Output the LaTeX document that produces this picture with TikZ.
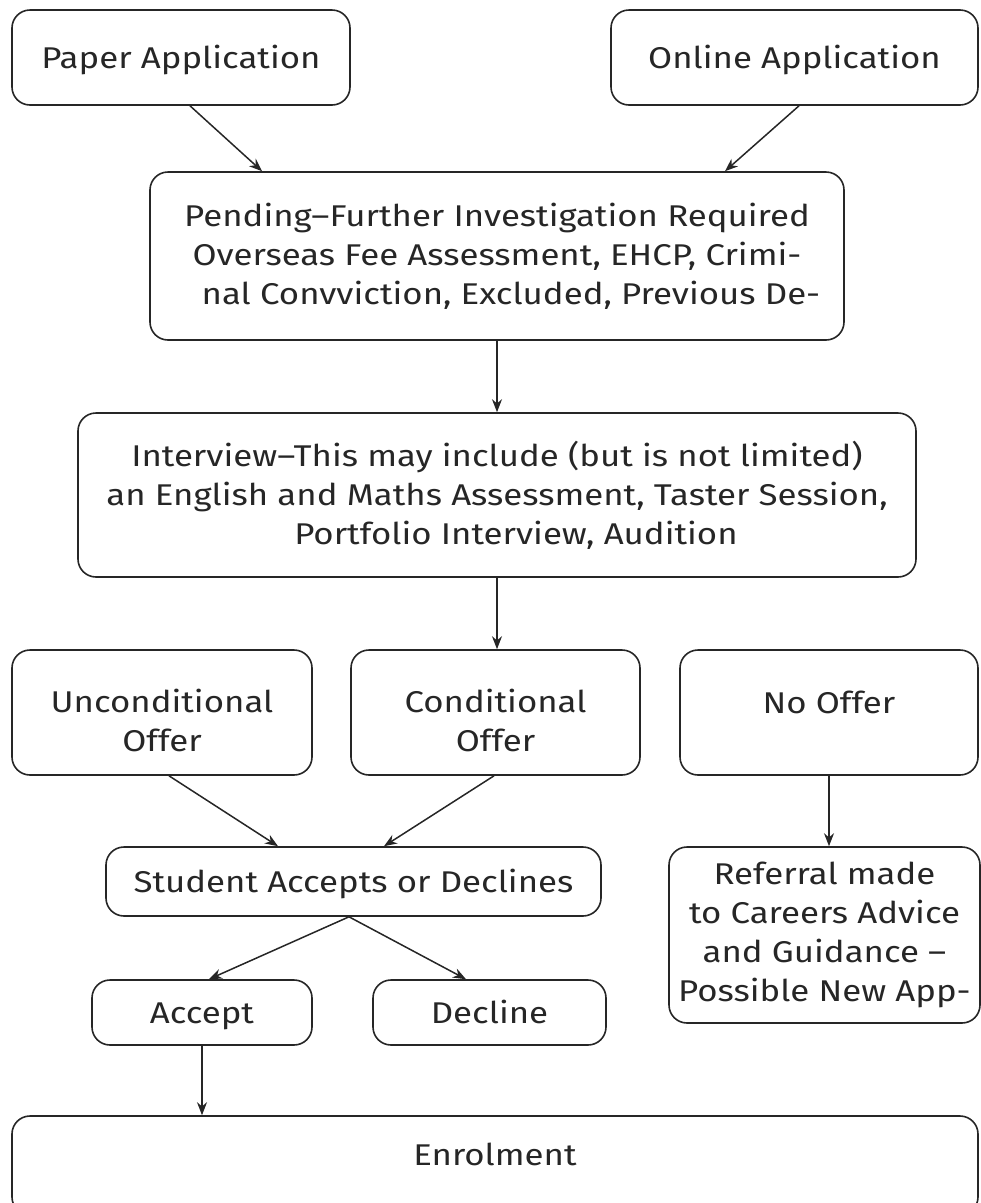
\documentclass[tikz,border=0pt]{standalone}
\usepackage{fontspec}
\setmainfont{Fira Sans}[FakeStretch=1.16]
\usetikzlibrary{arrows.meta}
\newcommand{\tallfirst}{\rule{0pt}{40pt}}
\begin{document}
\begin{tikzpicture}[x=1pt,y=-1pt,
  box/.style={draw=black!85, line width=1.6pt, rounded corners=18pt, align=center,
    inner sep=0pt, font=\fontsize{30}{39}\selectfont, text=black!85},
  sl/.style={text height=21pt, text depth=0pt},
  arr/.style={draw=black!85, line width=1.5pt, -{Stealth[length=13pt,width=10pt]}}]
\useasboundingbox (0,0) rectangle (981,1203);
\clip (0,0) rectangle (981,1203);
\node[box, sl, minimum width=338pt, minimum height=95pt] (paper) at (181,57.5) {Paper Application};
\node[box, sl, minimum width=367pt, minimum height=95pt] (online) at (794.5,57.5) {Online Application};
\node[box, minimum width=694pt, minimum height=168pt] (pending) at (497,256)
  {Pending–Further Investigation Required\\Overseas Fee Assessment, EHCP, Crimi-\\\hspace*{28pt}nal Convviction, Excluded, Previous De-};
\node[box, minimum width=838pt, minimum height=164pt] (interview) at (497,495)
  {Interview–This may include (but is not limited)\\an English and Maths Assessment, Taster Session,\\\hspace*{38pt}Portfolio Interview, Audition};
\node[box, minimum width=300pt, minimum height=125pt] (uncond) at (162,712.5) {\tallfirst Unconditional\\Offer};
\node[box, minimum width=289pt, minimum height=125pt] (cond) at (495.5,712.5) {\tallfirst Conditional\\Offer};
\node[box, minimum width=298pt, minimum height=125pt] (nooffer) at (829,712.5) {\tallfirst No Offer\\\rule{0pt}{1pt}};
\node[box, sl, minimum width=495pt, minimum height=69pt] (student) at (353.5,881.5) {Student Accepts or Declines};
\node[box, minimum width=311pt, minimum height=176pt] (referral) at (824.5,935)
  {Referral made\\to Careers Advice\\and Guidance –\\Possible New App-};
\node[box, sl, minimum width=220pt, minimum height=65pt] (accept) at (202,1012.5) {Accept};
\node[box, sl, minimum width=233pt, minimum height=65pt] (decline) at (489.5,1012.5) {Decline};
\node[box, text height=21pt, text depth=22pt, minimum width=966pt, minimum height=99pt] (enrol) at (495,1165.5) {Enrolment};

\draw[arr] ([xshift=9pt]paper.south) -- ([xshift=-235pt]pending.north);
\draw[arr] ([xshift=4.5pt]online.south) -- ([xshift=228pt]pending.north);
\draw[arr] (pending.south) -- (interview.north);
\draw[arr] (interview.south) -- (interview.south |- cond.north);
\draw[arr] ([xshift=7pt]uncond.south) -- ([xshift=-75.5pt]student.north);
\draw[arr] ([xshift=-1.5pt]cond.south) -- ([xshift=30.5pt]student.north);
\draw[arr] (nooffer.south) -- (nooffer.south |- referral.north);
\draw[arr] ([xshift=-4.5pt]student.south) -- ([xshift=7pt]accept.north);
\draw[arr] ([xshift=-4.5pt]student.south) -- ([xshift=-23.5pt]decline.north);
\draw[arr] (accept.south) -- (accept.south |- enrol.north);
\end{tikzpicture}
\end{document}
